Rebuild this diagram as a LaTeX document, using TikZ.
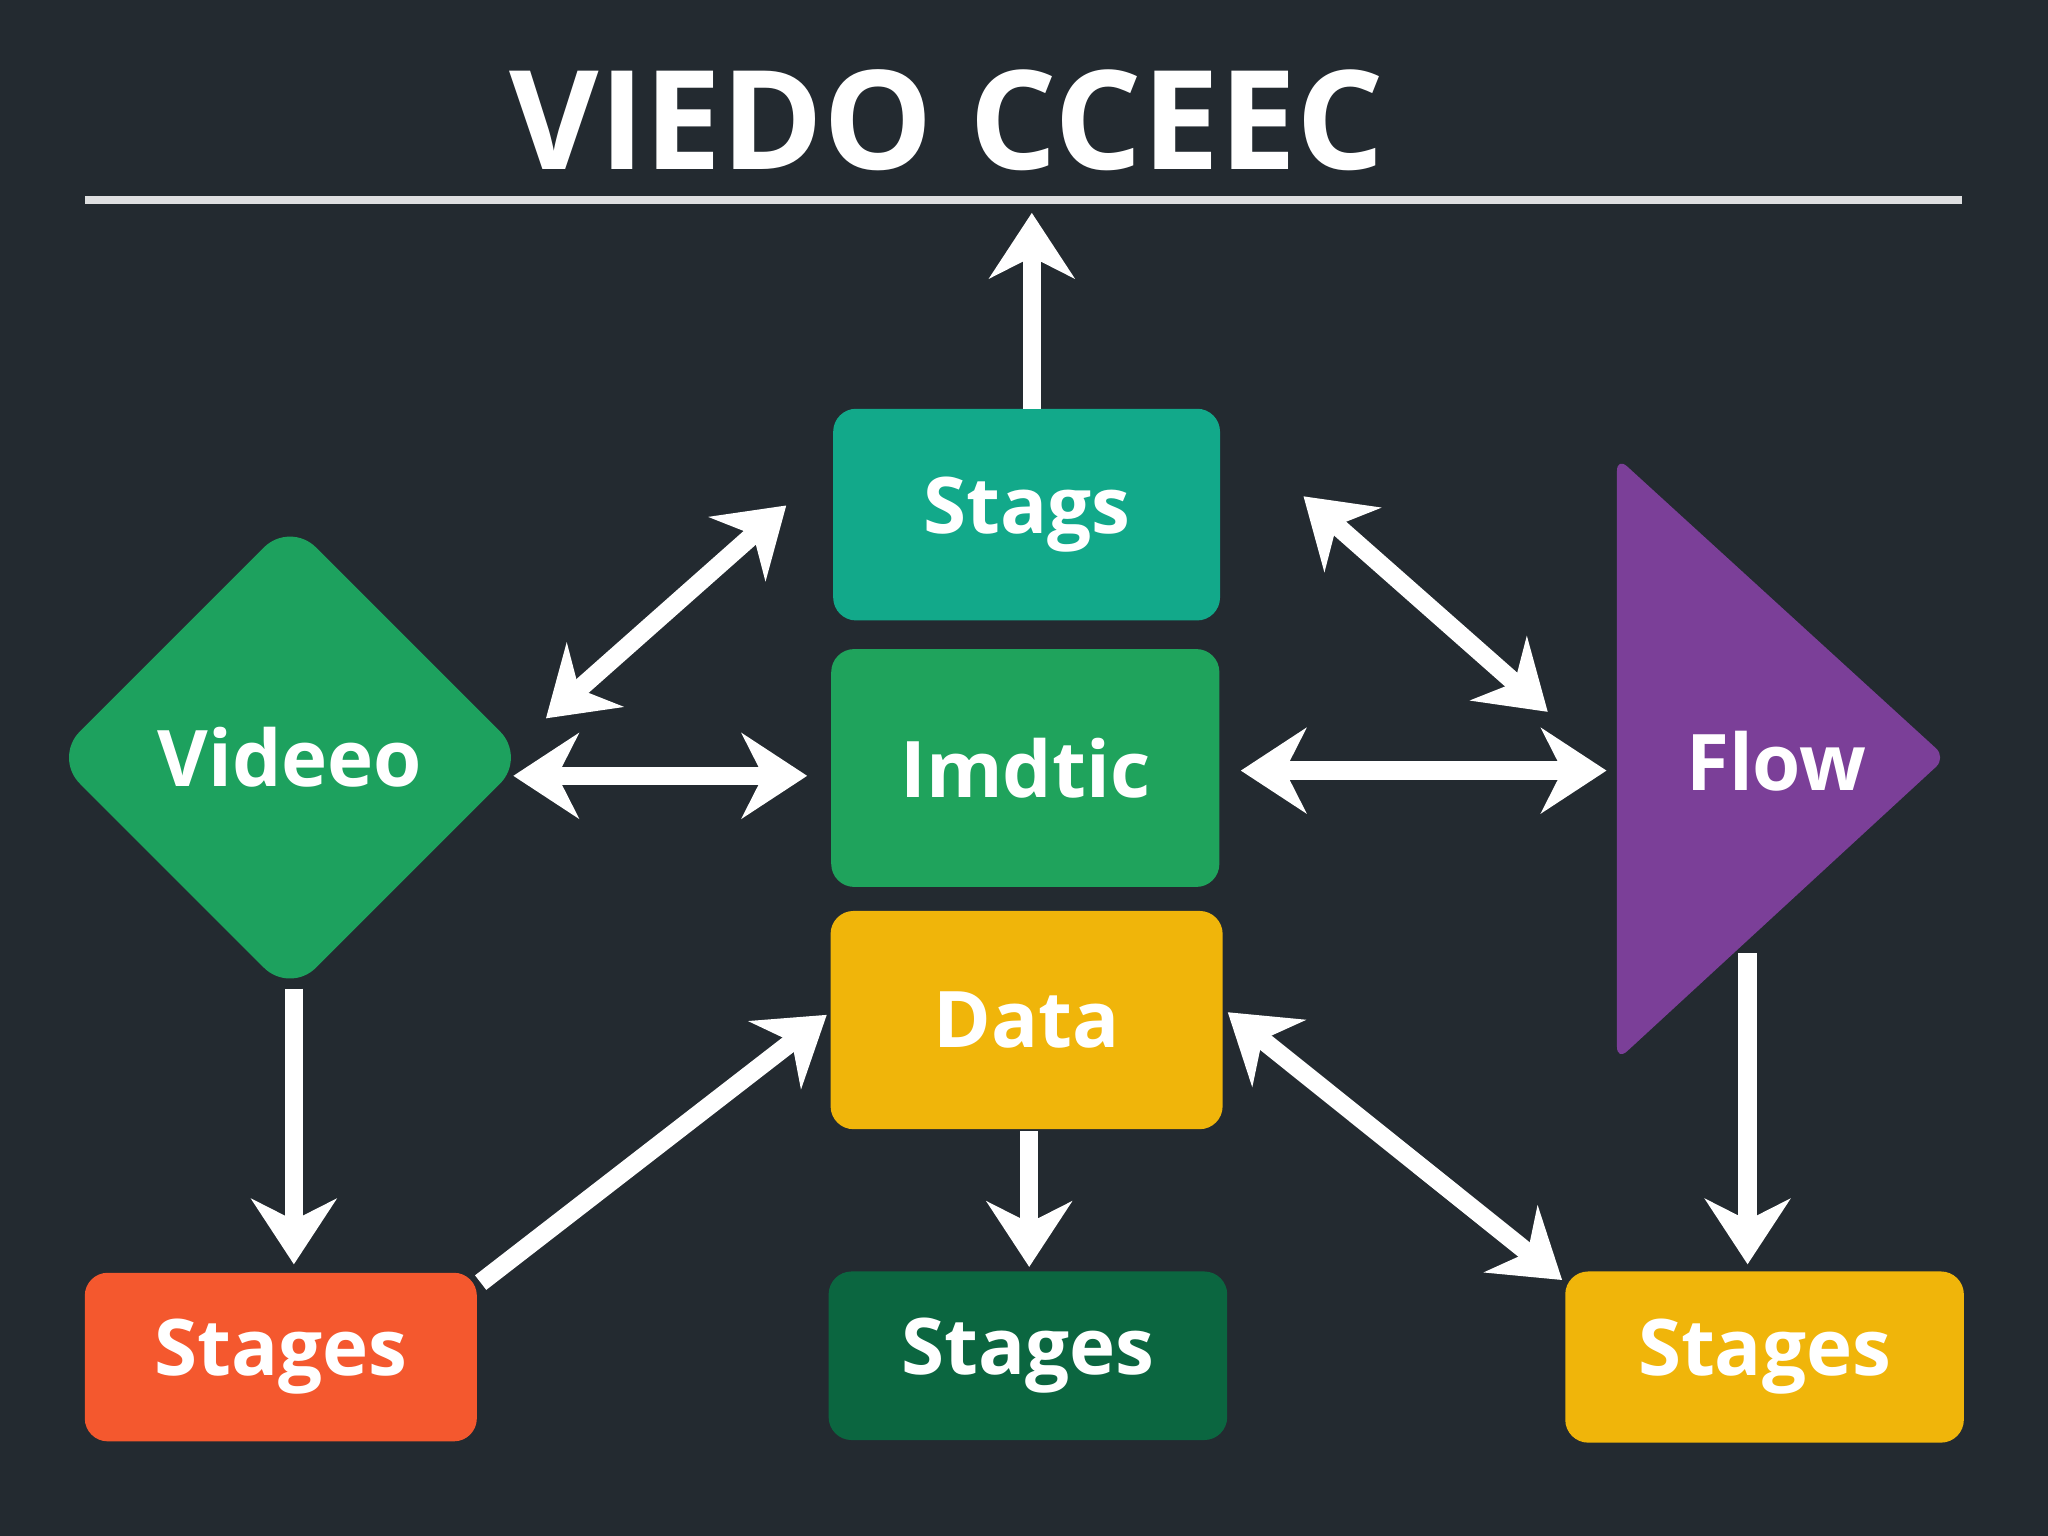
\documentclass[tikz,border=0pt]{standalone}
\usepackage{fontspec}
\setmainfont{Open Sans}
\usetikzlibrary{arrows.meta,shapes.geometric}
\definecolor{bg}{HTML}{232A30}
\definecolor{cteal}{HTML}{12A98A}
\definecolor{cgreen}{HTML}{1FA35C}
\definecolor{cyel}{HTML}{F0B50A}
\definecolor{cred}{HTML}{F4582E}
\definecolor{cdark}{HTML}{0B6640}
\definecolor{cpurp}{HTML}{7B3F98}
\tikzset{
 box/.style={rectangle,rounded corners=5pt,inner sep=0pt,text=white,font=\fontsize{17}{20}\selectfont\bfseries},
 conn/.style={draw=white,line width=4pt,-{Stealth[length=0.5cm,width=0.65cm]}},
 dconn/.style={draw=white,line width=4pt,{Stealth[length=0.5cm,width=0.65cm]}-{Stealth[length=0.5cm,width=0.65cm]}}
}
\begin{document}
\begin{tikzpicture}[x=0.01cm,y=-0.01cm]
\fill[bg] (0,0) rectangle (1568,1176);
\useasboundingbox (0,0) rectangle (1568,1176);
\node[text=white,font=\fontsize{30}{34}\selectfont\bfseries] (title) at (725,92) {VIEDO CCEEC};
\draw[white!85!bg,line width=1.8pt] (65,153) coordinate (la) -- (1502,153) coordinate (lb);
\node[box,fill=cteal,minimum width=2.96cm,minimum height=1.62cm] (stags) at (786,394) {Stags};
\node[box,fill=cgreen,minimum width=2.97cm,minimum height=1.82cm] (imd) at (785,588) {Imdtic};
\node[box,fill=cyel,minimum width=3.0cm,minimum height=1.67cm] (data) at (786,781) {Data};
\node[box,fill=cred,minimum width=3.0cm,minimum height=1.29cm] (s1) at (215,1039) {Stages};
\node[box,fill=cdark,minimum width=3.05cm,minimum height=1.29cm] (s2) at (787,1038) {Stages};
\node[box,fill=cyel,minimum width=3.05cm,minimum height=1.31cm] (s3) at (1351,1039) {Stages};
\node[diamond,fill=cgreen!95!teal,rounded corners=8pt,minimum width=3.62cm,minimum height=3.62cm,inner sep=0pt,text=white,font=\fontsize{17}{20}\selectfont\bfseries] (vid) at (222,580) {Videeo};
\fill[cpurp,rounded corners=3pt] (1238,350) -- (1490,580) -- (1238,812) -- cycle;
\node[text=white,font=\fontsize{17}{20}\selectfont\bfseries] (flow) at (1360,583) {Flow};
\coordinate (top) at (790,163);
\coordinate (sb) at (790,313);
\draw[conn] (sb) -- (top);
\draw[dconn] (418,550) -- (602,387);
\draw[dconn] (393,594) -- (618,594);
\draw[dconn] (950,590) -- (1230,590);
\draw[dconn] (998,380) -- (1185,545);
\draw[conn] (225,757) -- (225,968);
\draw[conn] (368,982) -- (633,777);
\draw[conn] (788,866) -- (788,970);
\draw[dconn] (940,775) -- (1196,980);
\draw[conn] (1338,730) -- (1338,968);
\end{tikzpicture}
\end{document}
